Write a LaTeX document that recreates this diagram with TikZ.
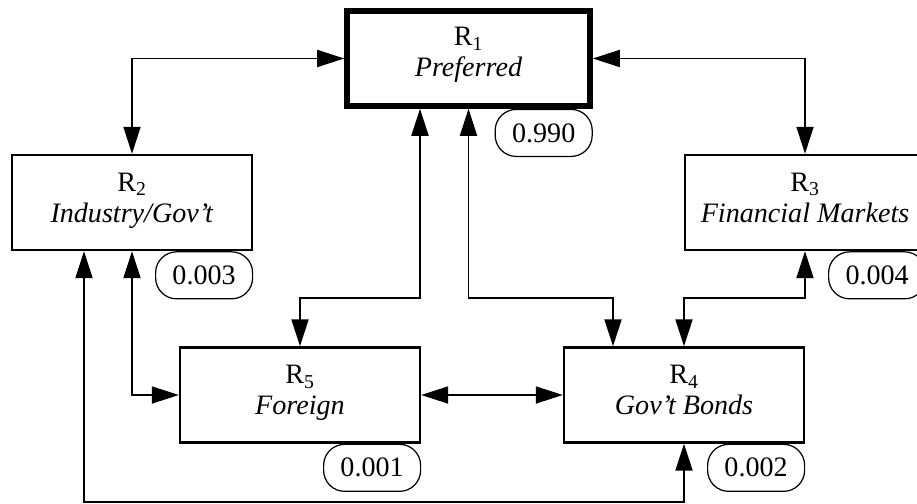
\documentclass[tikz,border=0pt]{standalone}
\usepackage{fontspec}
\setmainfont{Liberation Serif}
\usetikzlibrary{arrows.meta,positioning,calc}
\tikzset{
  region/.style={draw, line width=1.4pt, minimum width=4.8cm, minimum height=1.9cm, inner sep=0pt},
  regtext/.style={anchor=north, align=center, inner sep=0pt, font=\fontsize{16}{17.6}\selectfont},
  prob/.style={draw, line width=0.7pt, rounded corners=0.42cm, minimum width=1.94cm, minimum height=0.94cm, inner sep=0pt, anchor=north east, font=\fontsize{16}{17.6}\selectfont},
}

\begin{document}
\begin{tikzpicture}[>={Triangle[length=0.54cm,width=0.34cm]}, line width=1.1pt]
        \path[use as bounding box, clip] (0,0) rectangle (18.34,10.08);

        % R1 (top)
        \node[region, line width=3.2pt, minimum width=4.86cm] (r1) at (9.37,8.91) {};
        \node[regtext, below=0.36cm of r1.north] (t1) {R\textsubscript{1}\\\textit{Preferred}};
        \node[prob] (p1) at (r1.south east) {0.990};

        % R2 (left)
        \node[region] (r2) at (2.64,6.03) {};
        \node[regtext, below=0.36cm of r2.north] (t2) {R\textsubscript{2}\\\textit{Industry/Gov't}};
        \node[prob] (p2) at (r2.south east) {0.003};

        % R3 (right)
        \node[region] (r3) at (16.10,6.03) {};
        \node[regtext, below=0.36cm of r3.north] (t3) {R\textsubscript{3}\\\textit{Financial Markets}};
        \node[prob] (p3) at (r3.south east) {0.004};

        % R5 (bottom left)
        \node[region] (r5) at (6.00,2.18) {};
        \node[regtext, below=0.36cm of r5.north] (t5) {R\textsubscript{5}\\\textit{Foreign}};
        \node[prob] (p5) at (r5.south east) {0.001};

        % R4 (bottom right)
        \node[region] (r4) at (13.68,2.18) {};
        \node[regtext, below=0.36cm of r4.north] (t4) {R\textsubscript{4}\\\textit{Gov't Bonds}};
        \node[prob] (p4) at (r4.south east) {0.002};

        % bends
        \coordinate (k5) at (8.40,4.12);
        \coordinate (k4) at (12.26,4.12);
        \coordinate (kb) at (1.68,0.04);

        % Arrows
        \draw[<->] (r1.west) -| (r2.north);
        \draw[<->] (r1.east) -| (r3.north);
        \draw[<->] (r1.south -| k5) -- (k5) -| (r5.north);
        \draw[<->] (r1.south) |- (k4) -- (r4.north -| k4);
        \draw[<->] (r3.south) -- (r3.south |- k4) -| (r4.north);
        \draw[<->] (r2.south) |- (r5.west);
        \draw[<->] (r5.east) -- (r4.west);
        \draw[<->] (r2.south -| kb) -- (kb) -| (r4.south);

\end{tikzpicture}
\end{document}
